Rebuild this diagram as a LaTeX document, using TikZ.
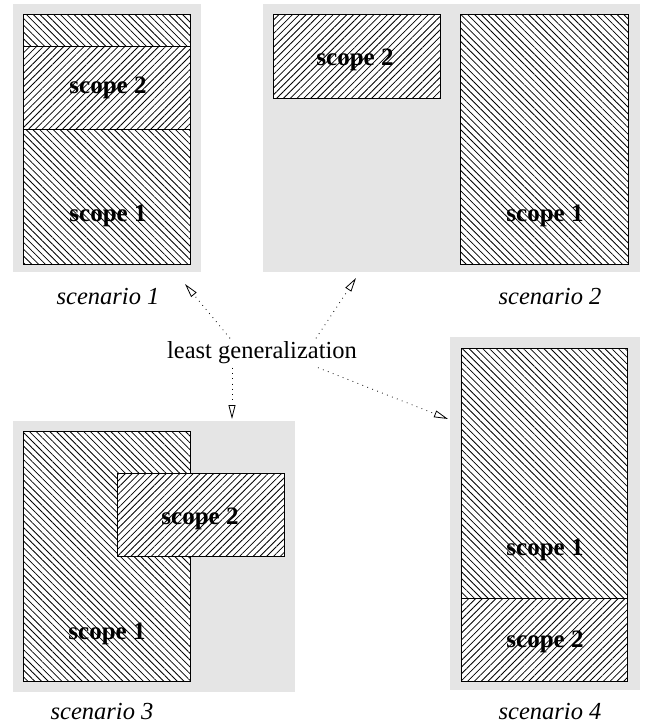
\documentclass[tikz,border=0pt]{standalone}
\usepackage{fontspec}
\setmainfont{Liberation Serif}
\usetikzlibrary{patterns.meta,arrows.meta}
\begin{document}
\begin{tikzpicture}[x=1pt,y=-1pt,every node/.style={font=\fontsize{24.5}{28}\selectfont},
  panel/.style={fill=black!10,draw=none},
  sone/.style={draw,line width=0.9pt,fill=white,postaction={pattern={Lines[angle=-45,distance=4.8pt,line width=0.8pt]}}},
  stwo/.style={draw,line width=0.9pt,fill=white,postaction={pattern={Lines[angle=45,distance=4.8pt,line width=0.8pt]}}},
  lbl/.style={font=\fontsize{25}{28}\selectfont\bfseries},
  scen/.style={font=\fontsize{24.5}{28}\selectfont\itshape},
  gen/.style={line width=0.8pt,dash pattern=on 0.8pt off 4.5pt,-{Triangle[open,length=14pt,width=7pt]}}]
\useasboundingbox (0,0) rectangle (645,728);
% scenario 1
\fill[panel] (13,4) rectangle (201,272);
\draw[sone] (23,14) rectangle (190,264);
\draw[stwo] (23,46) rectangle (190,129);
\node[lbl] (sa2) at (108,88) {scope 2};
\node[lbl] (sa1) at (108,216) {scope 1};
\node[scen] (scen1) at (108,297) {scenario 1};
% scenario 2
\fill[panel] (263,4) rectangle (640,272);
\draw[stwo] (273,14) rectangle (440,98);
\draw[sone] (460,14) rectangle (628,264);
\node[lbl] (sb2) at (355,60) {scope 2};
\node[lbl] (sb1) at (545,216) {scope 1};
\node[scen] (scen2) at (550,297) {scenario 2};
% scenario 3
\fill[panel] (13,421) rectangle (295,692);
\draw[sone] (23,431) rectangle (190,681);
\draw[stwo] (117,473) rectangle (284,556);
\node[lbl] (sc2) at (200,519) {scope 2};
\node[lbl] (sc1) at (107,634) {scope 1};
\node[scen] (scen3) at (102,712) {scenario 3};
% scenario 4
\fill[panel] (450,337) rectangle (640,690);
\draw[sone] (461,348) rectangle (627,681);
\draw[stwo] (461,598) rectangle (627,681);
\node[lbl] (sd1) at (545,550) {scope 1};
\node[lbl] (sd2) at (545,642) {scope 2};
\node[scen] (scen4) at (550,712) {scenario 4};
% least generalization
\node (lg) at (262,353) {least generalization};
\coordinate (t1) at (185,284);
\coordinate (t2) at (356,278);
\coordinate (t3) at (232,419);
\coordinate (t4) at (448,419);
\draw[gen] ([xshift=-32pt]lg.north) -- (t1);
\draw[gen] ([xshift=54pt]lg.north) -- (t2);
\draw[gen] (t3 |- lg.south) -- (t3);
\draw[gen] ([xshift=56pt]lg.south) -- (t4);
\end{tikzpicture}
\end{document}
